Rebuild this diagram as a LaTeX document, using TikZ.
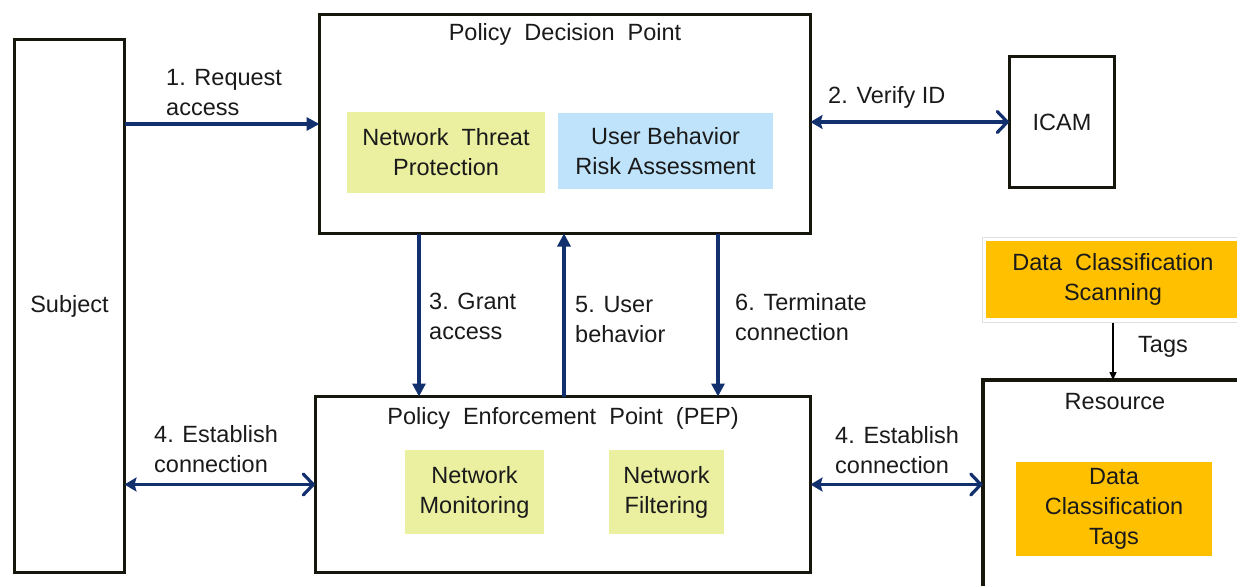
\documentclass[tikz,border=0pt]{standalone}
\usepackage{fontspec}
\setmainfont{Liberation Sans}
\usetikzlibrary{arrows.meta,fit}

\definecolor{navy}{HTML}{13306E}
\definecolor{edge}{HTML}{16160C}
\definecolor{ink}{HTML}{1A1A1A}
\definecolor{lime}{HTML}{EAF0A0}
\definecolor{sky}{HTML}{BEE3FA}
\definecolor{amber}{HTML}{FFC000}

\newcommand\diagfont{\fontsize{23.5}{30}\selectfont}

\begin{document}
\begin{tikzpicture}[x=1pt,y=-1pt,
  box/.style={draw=edge, line width=3.5pt, inner sep=0pt, outer sep=0pt, text=ink, font=\diagfont},
  part/.style={inner sep=0pt, outer sep=0pt, align=center, text=ink, font=\diagfont},
  lab/.style={inner sep=0pt, anchor=west, align=left, text=ink, font=\diagfont},
  flow/.style={draw=navy, line width=3.2pt, -{Triangle[length=13pt,width=13pt]}},
  both/.style={draw=navy, line width=3.2pt, line join=round,
    {Stealth[length=12pt,width=14pt,inset=2pt]}-{Straight Barb[length=10pt,width=21pt,line cap=round]}},
  thin arrow/.style={draw=black, line width=1.2pt, -{Triangle[length=8pt,width=7pt]}}]

\clip (0,0) rectangle (1237,586);

% main blocks
\node[box, minimum width=110pt, minimum height=533pt] (subj) at (69.5,306) {Subject};
\node[box, minimum width=491pt, minimum height=219pt] (pdp) at (565,124) {};
\node[box, minimum width=105pt, minimum height=131pt] (icam) at (1062,122) {ICAM};
\node[box, minimum width=495pt, minimum height=176pt] (pep) at (563,484.5) {};
\node[box, minimum width=277pt, minimum height=230pt] (res) at (1121.5,495) {};

% titles
\node[part] (pdpt) at ([yshift=-20pt]pdp.north) {Policy\ \ Decision\ \ Point};
\node[part] (pept) at ([yshift=-22pt]pep.north) {Policy\ \ Enforcement\ \ Point\ \ (PEP)};
\node[part] (rest) at (1115,402) {Resource};

% inner components
\node[part, fill=lime, minimum width=198pt, minimum height=81pt] (ntp) at (446,152.5) {Network\ \ Threat\\Protection};
\node[part, fill=sky, minimum width=215pt, minimum height=76pt] (ubra) at (665.5,151) {User Behavior\\Risk Assessment};
\node[part, fill=lime, minimum width=139pt, minimum height=84pt] (nm) at (474.5,492) {Network\\Monitoring};
\node[part, fill=lime, minimum width=115pt, minimum height=84pt] (nf) at (666.5,492) {Network\\Filtering};
\node[part, fill=amber, minimum width=196pt, minimum height=94pt] (dct) at (1114,509) {Data\\Classification\\Tags};

% scanning service
\node[part, fill=amber, minimum width=254pt, minimum height=77pt] (dcs) at (1113,279.5) {Data\ \ Classification\\Scanning};
\node[fit=(dcs), inner sep=4pt, draw=gray!25, line width=1pt] (dcsf) {};

% connectors
\draw[flow] (subj.east |- pdp.west) -- (pdp.west);
\draw[both] (pdp.east |- icam.west) -- (icam.west);

\coordinate (gx) at (419,0);
\coordinate (ux) at (564,0);
\coordinate (tx) at (718,0);
\draw[flow] (gx |- pdp.south) -- (gx |- pep.north);
\draw[flow] (ux |- pep.north) -- (ux |- pdp.south);
\draw[flow] (tx |- pdp.south) -- (tx |- pep.north);

\draw[both] (pep.west -| subj.east) -- (pep.west);
\draw[both] (pep.east) -- (pep.east -| res.west);

\draw[thin arrow] (dcsf.south) -- (dcsf.south |- res.north);

% connector labels
\node[lab] (l1) at (166,93) {1. Request\\access};
\node[lab] (l2) at (828,97) {2. Verify ID};
\node[lab] (l3) at (429,316) {3. Grant\\access};
\node[lab] (l5) at (575,320) {5. User\\behavior};
\node[lab] (l6) at (735,317) {6. Terminate\\connection};
\node[lab] (l4a) at (154,449.5) {4. Establish\\connection};
\node[lab] (l4b) at (835,450) {4. Establish\\connection};
\node[lab] (lt) at (1138,347) {Tags};
\end{tikzpicture}
\end{document}
